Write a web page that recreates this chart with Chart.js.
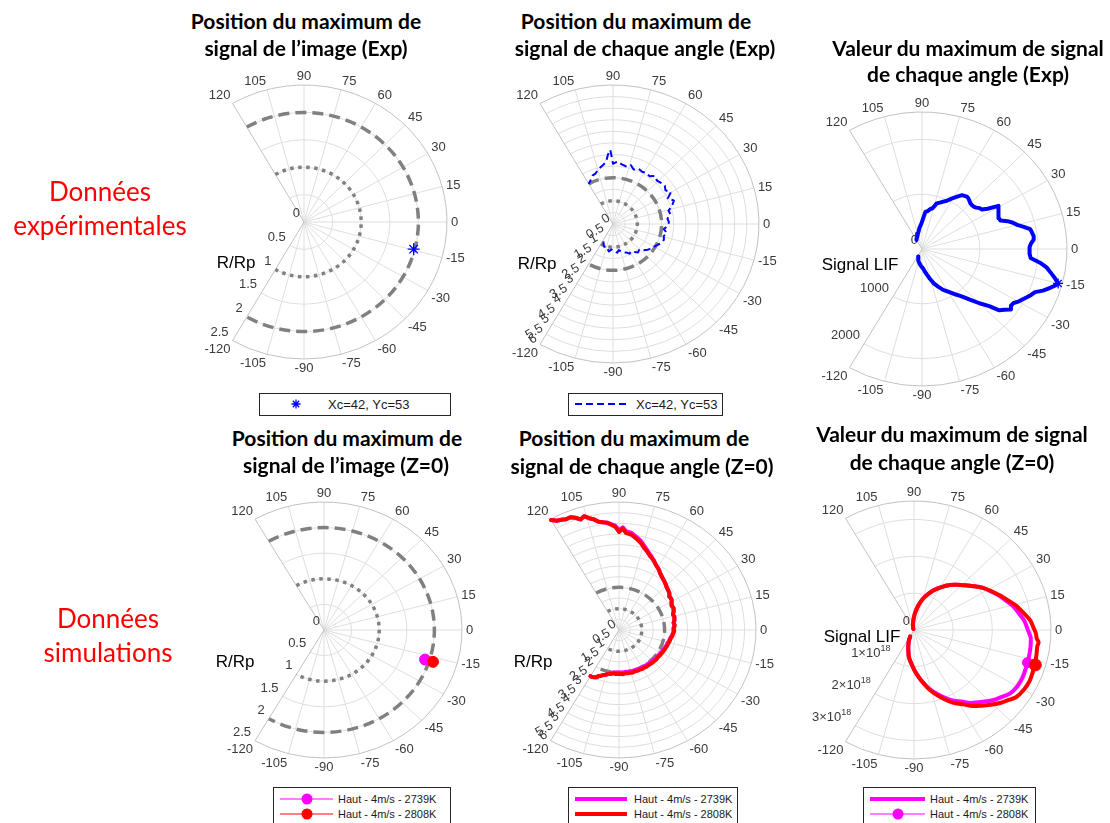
<!DOCTYPE html>
<html lang="fr">
<head>
<meta charset="UTF-8">
<title>Maximum de signal - diagrammes polaires</title>
<script src="https://cdn.jsdelivr.net/npm/chart.js"></script>
<style>
  body { margin: 0; background: #fff; }
  #page { position: relative; width: 1110px; height: 823px; overflow: hidden; }
  canvas, svg, .t, .row { position: absolute; }
  .t { font-family: Lato, "Open Sans", sans-serif; font-weight: bold; font-size: 21px; color: #000; white-space: nowrap; transform: translate(-50%, -50%); }
  .row { font-family: Lato, sans-serif; font-size: 26px; line-height: 34px; color: #ff0000; text-align: center; white-space: nowrap; transform: translate(-50%, -50%); }
</style>
</head>
<body>
<div id="page"></div>
<script>
// ---- données (angles en degrés) ----
const thetaTicks = [120, 105, 90, 75, 60, 45, 30, 15, 0, -15, -30, -45, -60, -75, -90, -105, -120];
const rTicksPos = [0, 0.5, 1, 1.5, 2, 2.5];
const rTicksAng = [0, 0.5, 1, 1.5, 2, 2.5, 3, 3.5, 4, 4.5, 5, 5.5, 6];
const rTicksSigExp = [0, 1000, 2000];
const rTicksSigSim = [0, 1, 2, 3];          // x 10^18
const refRadius = [1, 2];                    // R/Rp = 1 (pointillé), 2 (tirets)

const expName = 'Xc=42, Yc=53';
const simNames = ['Haut - 4m/s - 2739K', 'Haut - 4m/s - 2808K'];

// position du maximum de l'image
const imgExpTheta = [-14.5], imgExpR = [1.98];
const imgSimTheta = [-17.5], imgSim2739R = [1.92], imgSim2808R = [2.07];

// position du maximum pour chaque angle (Exp)
const angExpTheta = [-118,-114,-110,-106,-102,-98,-94,-90,-86,-82,-78,-74,-70,-66,-62,-58,-54,-50,-46,-42,-38,-34,-30,-26,-22,-18,-14,-10,-6,-2,2,6,10,14,18,22,26,30,34,38,42,46,50,54,58,62,66,70,74,78,82,86,90,92,94,96,100,104,108,112,116,120];
const angExpR = [0.85,0.95,1.05,1.0,1.1,1.2,1.1,1.15,1.2,1.25,1.15,1.25,1.3,1.35,1.45,1.4,1.5,1.6,1.55,1.7,1.8,1.9,1.95,2.05,2.15,2.2,2.15,2.25,2.1,2.25,2.3,2.25,2.4,2.35,2.55,2.7,2.5,2.75,2.6,2.7,2.65,2.6,2.7,2.55,2.6,2.55,2.6,2.5,2.65,2.55,2.6,2.7,2.6,3.2,3.0,2.7,2.55,2.45,2.3,2.25,2.1,2.0];

// valeur du maximum pour chaque angle (Exp)
const sigExpTheta = [-116,-112,-108,-104,-100,-96,-92,-88,-84,-80,-76,-72,-68,-64,-60,-56,-52,-48,-45,-42,-40,-38,-36,-34,-32,-30,-28,-26,-24,-22,-20,-18,-16,-15,-13,-11,-9,-7,-5,-3,-1,1,3,5,7,9,11,13,15,17,19,21,23,25,27,29,31,33,35,37,39,41,43,45,47,49,51,53,55,58,61,64,67,70,73,76,79,82,85,88,91,94,97,100,104,108,112,116,120];
const sigExpR = [150,180,210,230,260,290,320,345,400,470,560,660,740,830,900,990,1090,1250,1400,1560,1740,1800,1880,1850,1860,1920,1960,2010,2060,2100,2220,2310,2400,2430,2350,2260,2180,2050,1880,1860,1850,1860,1880,1930,1940,1920,1900,1800,1700,1640,1560,1450,1440,1460,1480,1510,1530,1350,1260,1240,1200,1180,1175,1180,1200,1220,1230,1215,1200,1120,1050,980,940,900,870,770,740,700,680,560,470,420,380,330,290,260,230,210,190];
const sigExpPeakTheta = [-15], sigExpPeakR = [2430];

// position du maximum pour chaque angle (Z=0)
const angSimTheta = [-120,-118,-116,-114,-112,-110,-108,-106,-104,-102,-100,-97,-94,-91,-88,-85,-82,-79,-76,-73,-70,-67,-64,-61,-58,-55,-52,-49,-46,-43,-40,-37,-34,-31,-28,-25,-22,-19,-16,-13,-10,-7,-4,-1,2,5,8,11,14,17,20,23,26,29,32,35,38,41,44,47,50,53,56,59,62,65,68,71,74,77,80,83,86,88,90,92,94,96,98,100,102,104,106,108,110,112,114,116,118,120];
const angSim2808R = [2.5,2.5,2.46,2.42,2.32,2.28,2.22,2.18,2.14,2.1,2.08,
  2.05,2.07,2.05,2.06,2.08,2.05,2.07,2.06,2.08,2.06,2.08,2.07,2.09,2.08,2.1,2.09,2.11,2.12,2.12,2.14,2.13,2.15,2.16,2.18,2.2,2.21,2.24,2.25,2.28,2.3,2.35,2.38,2.42,2.4,2.45,2.42,2.48,2.5,2.47,2.55,2.6,2.58,2.65,2.7,2.72,2.8,2.85,2.9,2.98,3.05,3.12,3.22,3.35,3.45,3.6,3.7,3.85,4.0,4.2,4.35,4.5,4.55,
  4.75,4.6,4.85,4.95,5.05,5.1,5.15,5.3,5.4,5.55,5.45,5.6,5.7,5.68,5.75,5.8,5.95];
const angSim2739R = [2.5,2.5,2.46,2.42,2.32,2.28,2.22,2.18,2.14,2.1,2.08,
  2.0,2.0,1.98,1.99,2.0,1.98,2.0,1.99,2.01,2.0,2.01,2.01,2.02,2.02,2.04,2.03,2.05,2.06,2.06,2.08,2.08,2.1,2.11,2.13,2.15,2.17,2.2,2.21,2.25,2.27,2.32,2.36,2.4,2.38,2.44,2.41,2.47,2.5,2.47,2.55,2.6,2.58,2.65,2.7,2.72,2.8,2.85,2.9,2.98,3.05,3.12,3.22,3.35,3.45,3.6,3.75,3.9,4.08,4.28,4.43,4.58,4.63,
  4.82,4.68,4.9,4.98,5.07,5.1,5.15,5.3,5.4,5.55,5.45,5.6,5.7,5.68,5.75,5.8,5.95];

// valeur du maximum pour chaque angle (Z=0), en 10^18
const sigSimTheta = [-119,-115,-110,-105,-100,-94,-88,-82,-76,-70,-65,-62,-58,-54,-50,-46,-42,-38,-35,-30,-25,-20,-16,-12,-8,-6,-4,-2,0,5,9,14,18,23,28,33,38,44,48,53,59,65,70,76,81,87,92,98,105,112,120];
const sigSim2808R = [0.2,0.3,0.42,0.56,0.75,0.92,1.15,1.4,1.68,1.93,2.14,2.25,2.38,2.55,2.68,2.82,2.96,3.08,3.18,3.24,3.26,3.24,3.22,3.2,3.18,3.2,3.14,3.12,3.08,2.98,2.85,2.7,2.55,2.39,2.24,2.1,1.93,1.75,1.65,1.53,1.36,1.19,1.03,0.84,0.66,0.45,0.3,0.18,0.1,0.06,0.03];
const sigSim2739R = [0.2,0.3,0.42,0.56,0.75,0.92,1.15,1.39,1.65,1.88,2.07,2.17,2.29,2.45,2.56,2.69,2.81,2.91,3.0,3.05,3.06,3.04,3.03,3.02,3.01,3.0,2.99,2.95,2.91,2.83,2.73,2.62,2.5,2.37,2.23,2.1,1.93,1.75,1.65,1.53,1.36,1.19,1.03,0.84,0.66,0.45,0.3,0.18,0.1,0.06,0.03];
const sigSimPeakTheta = [-17], sigSimPeak2739 = [3.03], sigSimPeak2808 = [3.24];

const titles = [
  ['Position du maximum de', 'signal de l\u2019image (Exp)'],
  ['Position du maximum de', 'signal de chaque angle (Exp)'],
  ['Valeur du maximum de signal', 'de chaque angle (Exp)'],
  ['Position du maximum de', 'signal de l\u2019image (Z=0)'],
  ['Position du maximum de', 'signal de chaque angle (Z=0)'],
  ['Valeur du maximum de signal', 'de chaque angle (Z=0)']
];
const rowLabels = [['Données', 'expérimentales'], ['Données', 'simulations']];

// ---- mise en page ----
const BLUE = '#0000ff', RED = '#ff0000', MAG = '#ff00ff', GREY = '#808080';
const GRID = '#dedede', OUTLINE = '#c2c2c2', TXT = '#3a3a3a';
const PAD = { l: 110, r: 40, t: 30, b: 30 };
const page = document.getElementById('page');

function polarData(theta, r) {
  return theta.map((t, i) => ({ x: r[i] * Math.cos(t * Math.PI / 180), y: r[i] * Math.sin(t * Math.PI / 180) }));
}
function lineSet(theta, r, color, width, dash, tension) {
  return { data: polarData(theta, r), showLine: true, borderColor: color, borderWidth: width,
    borderDash: dash || [], pointRadius: 0, tension: tension || 0, fill: false,
    borderJoinStyle: 'round', borderCapStyle: dash ? 'butt' : 'round' };
}
function dotSet(theta, r, color, radius, style) {
  return { data: polarData(theta, r), showLine: false, pointStyle: style || 'circle', pointRadius: radius,
    backgroundColor: color, borderColor: color, borderWidth: style === 'star' ? 1.3 : 1 };
}

const panels = [
  { cx: 304, cy: 222, rx: 143, ry: 137, rMax: 2.5, ticks: rTicksPos, refs: true, tilt: false,
    axisTitle: 'R/Rp', ax: -68, ay: 41,
    datasets: [dotSet(imgExpTheta, imgExpR, BLUE, 6, 'star')] },
  { cx: 613, cy: 224, rx: 146, ry: 139, rMax: 6, ticks: rTicksAng, refs: true, tilt: true,
    axisTitle: 'R/Rp', ax: -76, ay: 40,
    datasets: [lineSet(angExpTheta, angExpR, BLUE, 2, [7, 4])] },
  { cx: 922, cy: 249, rx: 145, ry: 137, rMax: 2500, ticks: rTicksSigExp, refs: false, tilt: false,
    axisTitle: 'Signal LIF', ax: -62, ay: 16,
    datasets: [dotSet(sigExpPeakTheta, sigExpPeakR, BLUE, 5, 'star'), lineSet(sigExpTheta, sigExpR, BLUE, 4)] },
  { cx: 324, cy: 630, rx: 138, ry: 128, rMax: 2.5, ticks: rTicksPos, refs: true, tilt: false,
    axisTitle: 'R/Rp', ax: -89, ay: 32,
    datasets: [dotSet(imgSimTheta, imgSim2808R, RED, 5.5), dotSet(imgSimTheta, imgSim2739R, MAG, 5.5)] },
  { cx: 619, cy: 630, rx: 137, ry: 128, rMax: 6, ticks: rTicksAng, refs: true, tilt: true,
    axisTitle: 'R/Rp', ax: -86, ay: 32,
    datasets: [lineSet(angSimTheta, angSim2808R, RED, 4), lineSet(angSimTheta, angSim2739R, MAG, 4)] },
  { cx: 914, cy: 630, rx: 137, ry: 129, rMax: 3.5, ticks: rTicksSigSim, refs: false, tilt: false, sci: true,
    axisTitle: 'Signal LIF', ax: -52, ay: 7,
    datasets: [dotSet(sigSimPeakTheta, sigSimPeak2808, RED, 6), dotSet(sigSimPeakTheta, sigSimPeak2739, MAG, 5),
      lineSet(sigSimTheta, sigSim2808R, RED, 4, null, 0.3), lineSet(sigSimTheta, sigSim2739R, MAG, 4, null, 0.3)] }
];

function polarGrid(p) {
  return {
    id: 'polarGrid',
    beforeDatasetsDraw(chart) {
      const ctx = chart.ctx, xs = chart.scales.x, ys = chart.scales.y;
      const cx = xs.getPixelForValue(0), cy = ys.getPixelForValue(0);
      const kx = r => xs.getPixelForValue(r) - cx;
      const ky = r => cy - ys.getPixelForValue(r);
      const pt = (r, deg) => {
        const a = deg * Math.PI / 180;
        return { x: xs.getPixelForValue(r * Math.cos(a)), y: ys.getPixelForValue(r * Math.sin(a)) };
      };
      const a0 = -120 * Math.PI / 180, a1 = 120 * Math.PI / 180;
      ctx.save();

      // cercles de grille
      ctx.strokeStyle = GRID; ctx.lineWidth = 1;
      p.ticks.forEach(r => {
        if (r <= 0 || r >= p.rMax) return;
        ctx.beginPath(); ctx.ellipse(cx, cy, kx(r), ky(r), 0, a0, a1); ctx.stroke();
      });
      // rayons
      thetaTicks.forEach(t => {
        if (Math.abs(t) === 120) return;
        const e = pt(p.rMax, t);
        ctx.beginPath(); ctx.moveTo(cx, cy); ctx.lineTo(e.x, e.y); ctx.stroke();
      });
      // contour
      ctx.strokeStyle = OUTLINE;
      const s = pt(p.rMax, 120);
      ctx.beginPath(); ctx.moveTo(cx, cy); ctx.lineTo(s.x, s.y);
      ctx.ellipse(cx, cy, kx(p.rMax), ky(p.rMax), 0, a0, a1);
      ctx.lineTo(cx, cy); ctx.stroke();

      // cercles de référence R/Rp = 1 et 2
      if (p.refs) {
        ctx.strokeStyle = GREY; ctx.lineWidth = 3.5; ctx.lineCap = 'butt';
        refRadius.forEach((r, i) => {
          ctx.setLineDash(i === 0 ? [3.5, 4.5] : [11, 6]);
          ctx.beginPath(); ctx.ellipse(cx, cy, kx(r), ky(r), 0, a0, a1); ctx.stroke();
        });
        ctx.setLineDash([]);
      }

      // graduations angulaires
      ctx.fillStyle = TXT; ctx.font = '13px "Liberation Sans", Arial, sans-serif';
      thetaTicks.forEach(t => {
        const a = t * Math.PI / 180, c = Math.cos(a), sn = Math.sin(a);
        const e = pt(p.rMax, t);
        const x = e.x + 4 * c, y = e.y - 4 * sn;
        ctx.textAlign = c > 0.1 ? 'left' : (c < -0.1 ? 'right' : 'center');
        let yy = y;
        if (sn > 0.3) { ctx.textBaseline = 'alphabetic'; yy = y - 1; }
        else if (sn < -0.3) { ctx.textBaseline = 'top'; yy = y - 1; }
        else ctx.textBaseline = 'middle';
        ctx.fillText(String(t), x, yy);
      });

      // graduations radiales le long du rayon -120
      p.ticks.forEach(v => {
        const e = pt(v, -120);
        const x = e.x - 4, y = e.y - (p.tilt ? 7 : 8.5);
        ctx.textBaseline = 'middle';
        if (p.tilt) {
          ctx.save(); ctx.translate(x, y); ctx.rotate(-Math.PI / 6);
          ctx.textAlign = 'right'; ctx.fillText(String(v), 0, 0); ctx.restore();
        } else if (p.sci && v !== 0) {
          const sup = '18', base = v + '\u00d710';
          ctx.font = '9px "Liberation Sans", Arial, sans-serif';
          const ws = ctx.measureText(sup).width;
          ctx.textAlign = 'left'; ctx.fillText(sup, x - ws, y - 5);
          ctx.font = '13px "Liberation Sans", Arial, sans-serif';
          ctx.textAlign = 'right'; ctx.fillText(base, x - ws, y);
        } else {
          ctx.textAlign = 'right'; ctx.fillText(String(v), x, y);
        }
      });

      // titre de l'axe radial
      ctx.fillStyle = '#000'; ctx.font = '17px "Liberation Sans", Arial, sans-serif';
      ctx.textAlign = 'center'; ctx.textBaseline = 'middle';
      ctx.fillText(p.axisTitle, cx + p.ax, cy + p.ay);
      ctx.restore();
    }
  };
}

panels.forEach(p => {
  const c = document.createElement('canvas');
  c.width = 2 * p.rx + PAD.l + PAD.r;
  c.height = 2 * p.ry + PAD.t + PAD.b;
  c.style.left = (p.cx - p.rx - PAD.l) + 'px';
  c.style.top = (p.cy - p.ry - PAD.t) + 'px';
  page.appendChild(c);
  new Chart(c, {
    type: 'scatter',
    data: { datasets: p.datasets },
    options: {
      responsive: false,
      animation: false,
      events: [],
      layout: { padding: { left: PAD.l, right: PAD.r, top: PAD.t, bottom: PAD.b } },
      scales: {
        x: { type: 'linear', min: -p.rMax, max: p.rMax, display: false },
        y: { type: 'linear', min: -p.rMax, max: p.rMax, display: false }
      },
      plugins: { legend: { display: false }, tooltip: { enabled: false } }
    },
    plugins: [polarGrid(p)]
  });
});

// ---- titres ----
const titlePos = [[306, 20, 306, 47], [636, 20, 645, 47], [968, 47, 968, 73],
  [347, 437, 346, 464], [634, 437, 642, 465], [952, 433, 952, 461]];
titles.forEach((t, i) => {
  const q = titlePos[i];
  [0, 1].forEach(k => {
    const d = document.createElement('div');
    d.className = 't'; d.textContent = t[k];
    d.style.left = q[2 * k] + 'px'; d.style.top = q[2 * k + 1] + 'px';
    page.appendChild(d);
  });
});
[[100, 208], [108, 635]].forEach((q, i) => {
  const d = document.createElement('div');
  d.className = 'row';
  d.innerHTML = rowLabels[i][0] + '<br>' + rowLabels[i][1];
  d.style.left = q[0] + 'px'; d.style.top = q[1] + 'px';
  page.appendChild(d);
});

// ---- légendes ----
function legend(x, y, w, h, fs, rows) {
  let s = `<svg xmlns="http://www.w3.org/2000/svg" width="${w + 1}" height="${h + 1}" style="left:${x}px;top:${y}px">`;
  s += `<rect x="0.5" y="0.5" width="${w}" height="${h}" fill="#fff" stroke="#262626" stroke-width="1"/>`;
  rows.forEach(r => {
    if (r.line) s += `<line x1="${r.line[0]}" y1="${r.y}" x2="${r.line[1]}" y2="${r.y}" stroke="${r.color}" stroke-width="${r.width}"${r.dash ? ` stroke-dasharray="${r.dash}"` : ''}/>`;
    if (r.dot) s += `<circle cx="${r.dot}" cy="${r.y}" r="5.5" fill="${r.color}"/>`;
    if (r.star) {
      const m = r.star, n = 4.5, d = 3.2;
      s += `<path d="M${m - n} ${r.y}H${m + n}M${m} ${r.y - n}V${r.y + n}M${m - d} ${r.y - d}L${m + d} ${r.y + d}M${m - d} ${r.y + d}L${m + d} ${r.y - d}" stroke="${r.color}" stroke-width="1.3"/>`;
    }
    s += `<text x="${r.tx}" y="${r.y}" dominant-baseline="central" font-family="Liberation Sans, Arial, sans-serif" font-size="${fs}" fill="#1a1a1a">${r.label}</text>`;
  });
  s += '</svg>';
  page.insertAdjacentHTML('beforeend', s);
}
legend(259, 393, 191, 22, 13, [{ label: expName, color: BLUE, star: 37, tx: 69, y: 11 }]);
legend(568, 393, 154, 22, 13, [{ label: expName, color: BLUE, line: [7, 62], width: 2, dash: '7,4', tx: 68, y: 11 }]);
legend(273, 787, 177, 40, 11, [
  { label: simNames[0], color: MAG, line: [7, 60], width: 1, dot: 34, tx: 65, y: 12 },
  { label: simNames[1], color: RED, line: [7, 60], width: 1, dot: 34, tx: 65, y: 27 }]);
legend(568, 787, 169, 40, 11, [
  { label: simNames[0], color: MAG, line: [7, 59], width: 4, tx: 66, y: 12 },
  { label: simNames[1], color: RED, line: [7, 59], width: 4, tx: 66, y: 27 }]);
legend(863, 787, 172, 40, 11, [
  { label: simNames[0], color: MAG, line: [7, 62], width: 4, tx: 67, y: 12 },
  { label: simNames[1], color: MAG, line: [7, 62], width: 1, dot: 35, tx: 67, y: 27 }]);
</script>
</body>
</html>
